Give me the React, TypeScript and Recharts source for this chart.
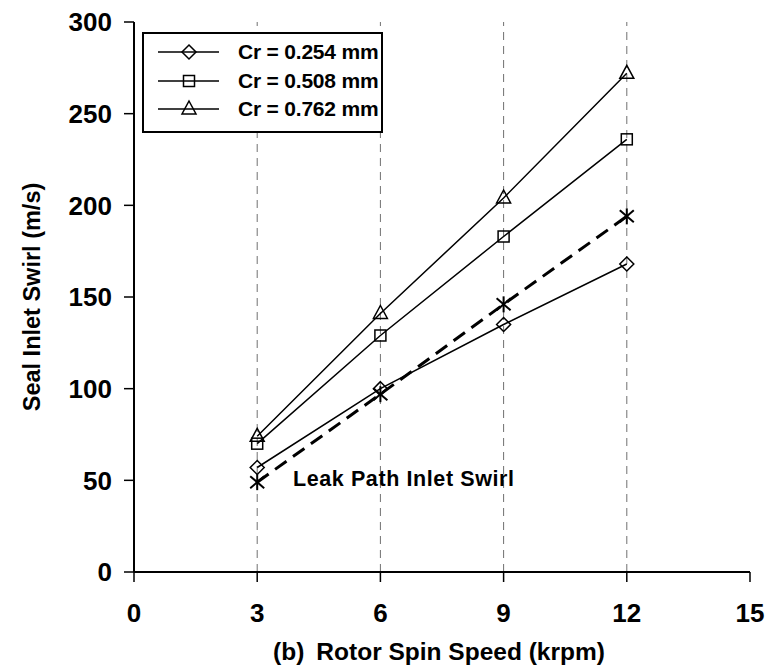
import { LineChart, Line, XAxis, YAxis, ReferenceLine, ReferenceDot, Legend } from 'recharts';

const speeds = [3, 6, 9, 12];
const cr254 = [57, 100, 135, 168];
const cr508 = [70, 129, 183, 236];
const cr762 = [74, 141, 204, 272];
const leakPath = [49, 97, 146, 194];

const xTicks = [0, 3, 6, 9, 12, 15];
const yTicks = [0, 50, 100, 150, 200, 250, 300];
const gridX = [3, 6, 9, 12];

const legendItems = [
  { key: 'cr254', label: 'Cr = 0.254 mm', marker: 'diamond' },
  { key: 'cr508', label: 'Cr = 0.508 mm', marker: 'square' },
  { key: 'cr762', label: 'Cr = 0.762 mm', marker: 'triangle' },
];

const data = speeds.map((s, i) => ({
  speed: s,
  cr254: cr254[i],
  cr508: cr508[i],
  cr762: cr762[i],
  leak: leakPath[i],
}));

const FONT = '"Liberation Sans", Arial, sans-serif';

const Marker = ({ cx, cy, type }: { cx: number; cy: number; type: string }) => {
  if (type === 'diamond') {
    return (
      <polygon
        points={`${cx},${cy - 7} ${cx + 7},${cy} ${cx},${cy + 7} ${cx - 7},${cy}`}
        fill="none"
        stroke="#000"
        strokeWidth={1.5}
      />
    );
  }
  if (type === 'square') {
    return <rect x={cx - 5.5} y={cy - 5.5} width={11} height={11} fill="none" stroke="#000" strokeWidth={1.5} />;
  }
  if (type === 'triangle') {
    return (
      <polygon
        points={`${cx},${cy - 8} ${cx + 7},${cy + 5} ${cx - 7},${cy + 5}`}
        fill="none"
        stroke="#000"
        strokeWidth={1.5}
      />
    );
  }
  // star: X plus vertical bar
  return (
    <g stroke="#000" strokeWidth={2}>
      <line x1={cx - 7} y1={cy - 6} x2={cx + 7} y2={cy + 6} />
      <line x1={cx - 7} y1={cy + 6} x2={cx + 7} y2={cy - 6} />
      <line x1={cx} y1={cy - 8} x2={cx} y2={cy + 8} />
    </g>
  );
};

const dotOf = (type: string) => (props: any) => (
  <Marker key={`${type}-${props.index}`} cx={props.cx} cy={props.cy} type={type} />
);

const LegendBox = () => (
  <div
    style={{
      width: 241,
      height: 101,
      boxSizing: 'border-box',
      border: '2px solid #000',
      background: '#fff',
      paddingTop: 4,
      fontFamily: FONT,
      fontWeight: 700,
      fontSize: 21,
      overflow: 'hidden',
    }}
  >
    {legendItems.map((it) => (
      <div key={it.key} style={{ display: 'flex', alignItems: 'center', height: 28.5 }}>
        <svg width={94} height={24} style={{ flex: 'none' }}>
          <line x1={14} y1={12} x2={75} y2={12} stroke="#000" strokeWidth={1.5} />
          <Marker cx={45} cy={12} type={it.marker} />
        </svg>
        <span style={{ whiteSpace: 'nowrap', letterSpacing: -0.2 }}>{it.label}</span>
      </div>
    ))}
  </div>
);

const tickStyle = { fill: '#000', fontSize: 26, fontWeight: 700, fontFamily: FONT };

export default function App() {
  return (
    <div style={{ position: 'fixed', left: 0, top: 0, background: '#fff' }}>
      <LineChart width={765} height={671} data={data} margin={{ top: 22, right: 15, left: 0, bottom: 0 }}>
        <XAxis
          dataKey="speed"
          type="number"
          domain={[0, 15]}
          ticks={xTicks}
          height={99}
          tickSize={10}
          tickMargin={22}
          tick={tickStyle}
          axisLine={{ stroke: '#000', strokeWidth: 2 }}
          tickLine={{ stroke: '#000', strokeWidth: 1.5 }}
          label={{
            content: ({ viewBox }: any) => (
              <text
                x={viewBox.x + viewBox.width / 2 - 3}
                y={viewBox.y + 79}
                textAnchor="middle"
                dominantBaseline="central"
                fontFamily={FONT}
                fontWeight={700}
                fontSize={24.5}
                fill="#000"
              >
                (b)
                <tspan dx={12}>Rotor Spin Speed (krpm)</tspan>
              </text>
            ),
          }}
        />
        <YAxis
          type="number"
          domain={[0, 300]}
          ticks={yTicks}
          width={134}
          tickSize={10}
          tickMargin={12}
          tick={tickStyle}
          axisLine={{ stroke: '#000', strokeWidth: 2 }}
          tickLine={{ stroke: '#000', strokeWidth: 1.5 }}
          label={{
            content: ({ viewBox }: any) => {
              const x = viewBox.x + 32;
              const y = viewBox.y + viewBox.height / 2;
              return (
                <text
                  x={x}
                  y={y}
                  transform={`rotate(-90, ${x}, ${y})`}
                  textAnchor="middle"
                  dominantBaseline="central"
                  fontFamily={FONT}
                  fontWeight={700}
                  fontSize={23.5}
                  fill="#000"
                >
                  Seal Inlet Swirl (m/s)
                </text>
              );
            },
          }}
        />
        {gridX.map((g) => (
          <ReferenceLine key={g} x={g} stroke="#707070" strokeWidth={1} strokeDasharray="8 6" />
        ))}
        <Legend
          layout="horizontal"
          verticalAlign="middle"
          align="center"
          content={() => <LegendBox />}
          wrapperStyle={{ position: 'absolute', left: 142, top: 32, width: 241, height: 101 }}
        />
        <Line dataKey="cr254" stroke="#000" strokeWidth={1.5} dot={dotOf('diamond')} isAnimationActive={false} />
        <Line dataKey="cr508" stroke="#000" strokeWidth={1.5} dot={dotOf('square')} isAnimationActive={false} />
        <Line dataKey="cr762" stroke="#000" strokeWidth={1.5} dot={dotOf('triangle')} isAnimationActive={false} />
        <Line
          dataKey="leak"
          stroke="#000"
          strokeWidth={3}
          strokeDasharray="14 8"
          dot={dotOf('star')}
          isAnimationActive={false}
        />
        <ReferenceDot
          x={3.87}
          y={50.5}
          r={0}
          stroke="none"
          label={{
            content: ({ viewBox }: any) => (
              <text
                x={viewBox.x}
                y={viewBox.y}
                dominantBaseline="central"
                fontFamily={FONT}
                fontWeight={700}
                fontSize={21.5}
                letterSpacing={0.6}
                fill="#000"
              >
                Leak Path Inlet Swirl
              </text>
            ),
          }}
        />
      </LineChart>
    </div>
  );
}
